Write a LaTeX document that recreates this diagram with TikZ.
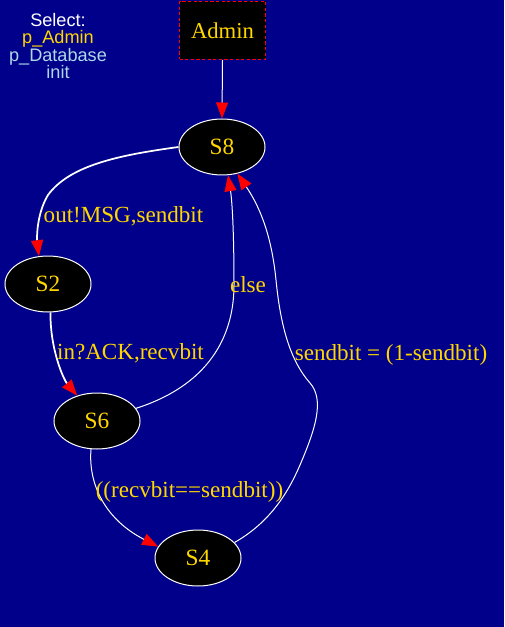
\documentclass[tikz,border=0pt]{standalone}
\usepackage{fontspec}
\setmainfont{Liberation Serif}
\newfontfamily\selfont{Liberation Sans}
\usetikzlibrary{arrows.meta,shapes.geometric}
\definecolor{bgnavy}{RGB}{0,0,139}
\definecolor{lbl}{RGB}{255,215,0}
\definecolor{lblue}{RGB}{173,216,230}
\begin{document}
\begin{tikzpicture}[x=0.75pt,y=-0.75pt,
  state/.style={ellipse, draw=white, fill=black, line width=0.75pt,
    minimum width=64.5pt, minimum height=42pt, inner sep=0pt, text=lbl,
    font=\fontsize{17.5}{19}\selectfont},
  procbox/.style={rectangle, draw=red, fill=black, dash pattern=on 2.4pt off 1.8pt,
    line width=1pt, minimum width=64.5pt, minimum height=43.5pt, inner sep=0pt,
    text=lbl, font=\fontsize{17}{19}\selectfont},
  edge/.style={draw=white, line width=0.75pt,
    -{Triangle[color=red, fill=red, length=12pt, width=9pt]}},
  thickedge/.style={edge, line width=1.3pt},
  lab/.style={text=lbl, inner sep=0pt, font=\fontsize{17.3}{19}\selectfont}]
\fill[bgnavy] (0,0) rectangle (504,627);
\useasboundingbox (0,0) rectangle (504,627);

\node[align=center, inner sep=0pt, font=\selfont\fontsize{13.6}{13.1}\selectfont] (sel) at (58,46)
  {\textcolor{white}{Select:}\\ \textcolor{lbl}{p\_Admin}\\ \textcolor{lblue}{p\_Database}\\ \textcolor{lblue}{init}};

\node[procbox] (admin) at (222.5,30.5) {Admin};
\node[state] (S8) at (222,147) {S8};
\node[state] (S2) at (48,284) {S2};
\node[state] (S6) at (97,421) {S6};
\node[state] (S4) at (198,558) {S4};

\draw[edge] (admin.south) -- (S8.north);
\draw[thickedge] (S8.west) .. controls (120,155) and (70,165) .. (48,195)
  .. controls (36,215) and (37,240) .. (S2.108);
\draw[thickedge] (S2.-85) .. controls (50,350) and (64,380) .. (S6.128);
\draw[edge] (S6.18) .. controls (200,388) and (234,345) .. (234,285)
  .. controls (234,230) and (232,200) .. (S8.-78);
\draw[edge] (S4.23) .. controls (265,525) and (285,500) .. (300,465)
  .. controls (315,430) and (325,400) .. (310,383)
  .. controls (288,358) and (280,320) .. (276,280)
  .. controls (272,240) and (262,210) .. (S8.-60);
\draw[edge] (S6.-102) .. controls (88,485) and (106,520) .. (S4.164);

\node[lab] (l1) at (123.5,216) {out!MSG,sendbit};
\node[lab] (l2) at (130.5,353) {in?ACK,recvbit};
\node[lab] (l3) at (248,285) {else};
\node[lab] (l4) at (391,355) {sendbit = (1-sendbit)};
\node[lab] (l5) at (189.5,492) {((recvbit==sendbit))};
\end{tikzpicture}
\end{document}
